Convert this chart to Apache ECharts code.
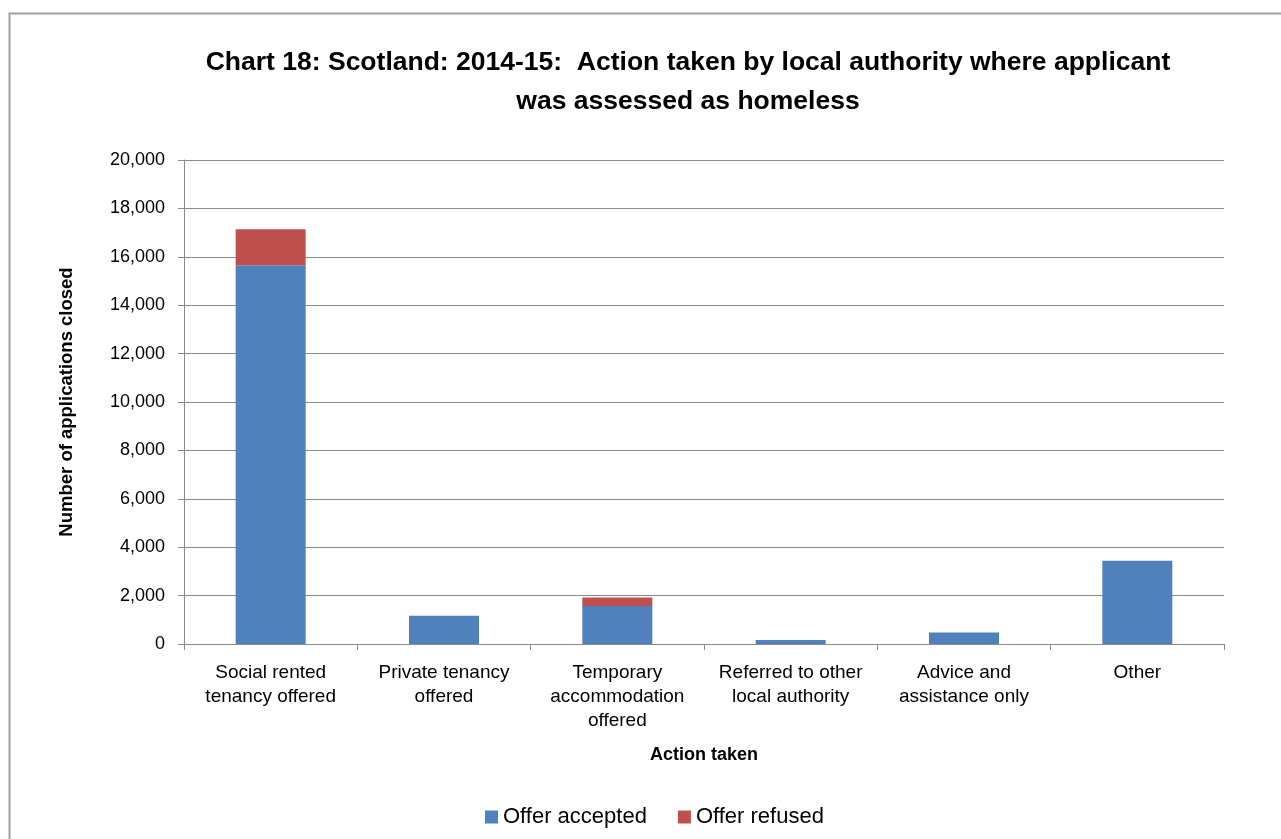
<!DOCTYPE html>
<html>
<head>
<meta charset="utf-8">
<script src="https://cdn.jsdelivr.net/npm/echarts@6/dist/echarts.min.js"></script>
<style>
  html, body { margin: 0; padding: 0; background: #ffffff; }
  #chart { width: 1281px; height: 839px; }
</style>
</head>
<body>
<div id="chart"></div>
<script>
// Homeless applications closed in Scotland, 2014-15, by action taken
const categories = [
  'Social rented\ntenancy offered',
  'Private tenancy\noffered',
  'Temporary\naccommodation\noffered',
  'Referred to other\nlocal authority',
  'Advice and\nassistance only',
  'Other'
];
const offerAccepted = [15650, 1170, 1570, 165, 480, 3440];
const offerRefused  = [1490, 0, 355, 0, 0, 0];
const yTicks = { min: 0, max: 20000, interval: 2000 };

const FONT = '"Liberation Sans", Arial, sans-serif';
const chart = echarts.init(document.getElementById('chart'));

chart.setOption({
  animation: false,
  backgroundColor: '#ffffff',
  textStyle: { fontFamily: FONT },
  graphic: [
    {
      type: 'rect',
      shape: { x: 9.5, y: 13.5, width: 1400, height: 1000 },
      style: { fill: 'none', stroke: '#a0a0a0', lineWidth: 2 },
      silent: true
    },
    {
      type: 'text',
      x: 688, y: 82,
      style: {
        text: 'Chart 18: Scotland: 2014-15:  Action taken by local authority where applicant\nwas assessed as homeless',
        fontFamily: FONT, fontWeight: 'bold', fontSize: 26.5,
        lineHeight: 39, fill: '#000000',
        textAlign: 'center', textVerticalAlign: 'middle'
      }
    }
  ],
  grid: { left: 184, right: 57, top: 160, bottom: 195 },
  legend: {
    left: 480, top: 801,
    itemWidth: 13, itemHeight: 13, itemGap: 31,
    icon: 'rect',
    textStyle: { fontSize: 22, color: '#000', fontFamily: FONT },
    data: ['Offer accepted', 'Offer refused']
  },
  xAxis: {
    type: 'category',
    data: categories,
    name: 'Action taken',
    nameLocation: 'middle',
    nameGap: 102,
    nameTextStyle: { fontWeight: 'bold', fontSize: 18, color: '#000', fontFamily: FONT },
    axisLine: { lineStyle: { color: '#8c8c8c', width: 1 } },
    axisTick: { show: true, length: 6, alignWithLabel: false, lineStyle: { color: '#8c8c8c' } },
    axisLabel: { fontSize: 19, color: '#000', lineHeight: 24, margin: 17, interval: 0, fontFamily: FONT }
  },
  yAxis: {
    type: 'value',
    min: yTicks.min, max: yTicks.max, interval: yTicks.interval,
    name: 'Number of applications closed',
    nameLocation: 'middle',
    nameGap: 108,
    nameTextStyle: { fontWeight: 'bold', fontSize: 18.5, color: '#000', fontFamily: FONT },
    axisLine: { show: true, lineStyle: { color: '#8c8c8c', width: 1 } },
    axisTick: { show: true, length: 6, lineStyle: { color: '#8c8c8c' } },
    splitLine: { lineStyle: { color: '#8c8c8c', width: 1 } },
    axisLabel: {
      fontSize: 18, color: '#000', margin: 19, fontFamily: FONT,
      formatter: v => v.toLocaleString('en-US')
    }
  },
  series: [
    {
      name: 'Offer accepted', type: 'bar', stack: 'total',
      barWidth: 70,
      itemStyle: { color: '#4F81BD' },
      data: offerAccepted
    },
    {
      name: 'Offer refused', type: 'bar', stack: 'total',
      barWidth: 70,
      itemStyle: { color: '#C0504D' },
      data: offerRefused
    }
  ]
});
</script>
</body>
</html>
